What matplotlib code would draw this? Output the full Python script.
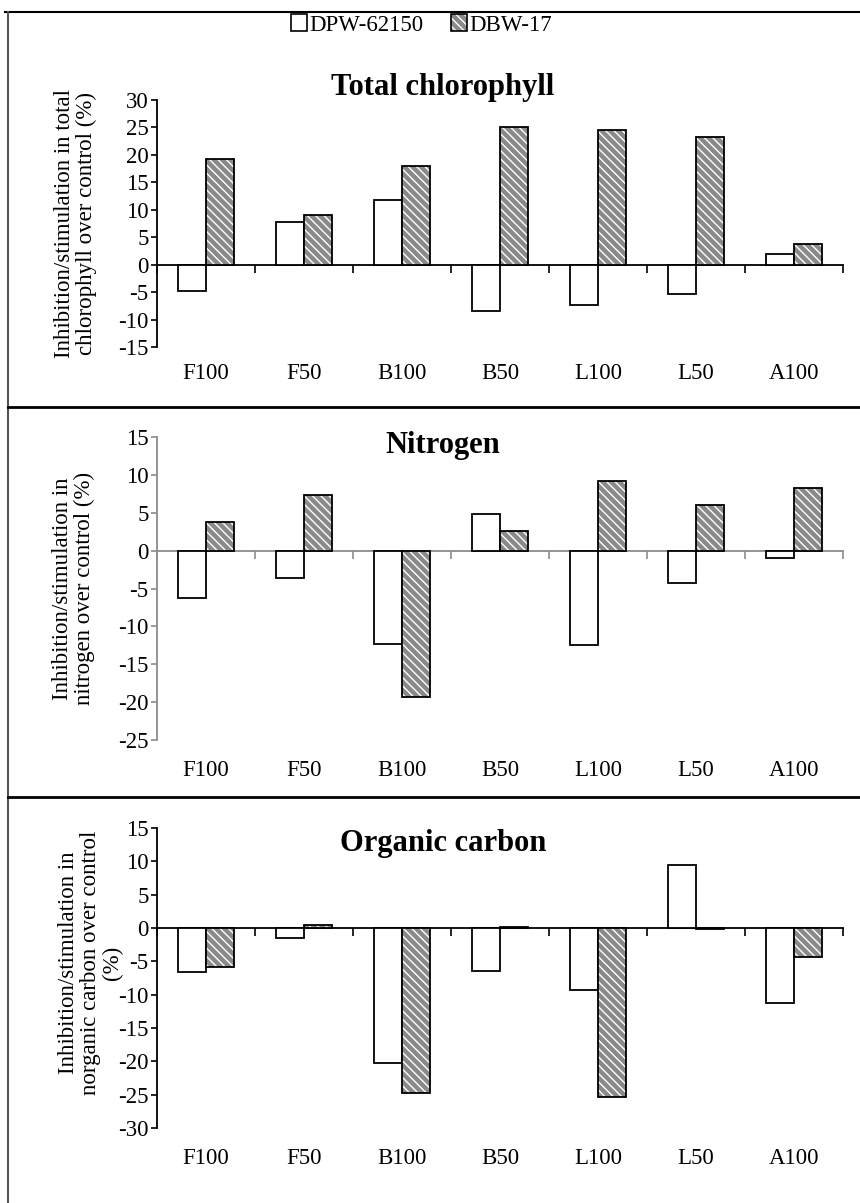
import numpy as np
import matplotlib
matplotlib.use("Agg")
import matplotlib.pyplot as plt
from matplotlib.patches import Patch
from matplotlib.lines import Line2D
from matplotlib.transforms import blended_transform_factory

plt.rcParams["font.family"] = ["Liberation Serif", "DejaVu Serif"]
plt.rcParams["hatch.linewidth"] = 1.0
plt.rcParams["axes.unicode_minus"] = False

categories = ["F100", "F50", "B100", "B50", "L100", "L50", "A100"]
series_names = ["DPW-62150", "DBW-17"]

chl_dpw = [-4.8, 7.7, 11.8, -8.5, -7.3, -5.3, 1.9]
chl_dbw = [19.3, 9.0, 17.9, 25.0, 24.5, 23.3, 3.8]

nit_dpw = [-6.3, -3.6, -12.3, 4.8, -12.4, -4.3, -1.0]
nit_dbw = [3.8, 7.4, -19.3, 2.6, 9.2, 6.0, 8.3]

oc_dpw = [-6.6, -1.5, -20.3, -6.5, -9.3, 9.4, -11.3]
oc_dbw = [-5.9, 0.4, -24.8, 0.2, -25.4, -0.2, -4.3]

panels = [
    ("Total chlorophyll", chl_dpw, chl_dbw, (-15, 30),
     "Inhibition/stimulation in total\nchlorophyll over control (%)"),
    ("Nitrogen", nit_dpw, nit_dbw, (-25, 15),
     "Inhibition/stimulation in\nnitrogen over control (%)"),
    ("Organic carbon", oc_dpw, oc_dbw, (-30, 15),
     "Inhibition/stimulation in\nnorganic carbon over control\n(%)"),
]

W, H = 860, 1203
fig = plt.figure(figsize=(W / 100, H / 100), dpi=100)

# axes boxes in pixels: (top, bottom)
boxes = [(100, 347), (437, 740), (828, 1128)]
ax_left, ax_right = 157, 843
label_x = [-0.087, -0.09, -0.05]
label_y = [0.5, 0.5, 0.55]
title_y = [88, 445, 843]
fs = 16.5

gray_fill = "#8a8a8a"
hatch = "\\\\\\\\"
bw = 0.286
x = np.arange(len(categories))

for i, (title, dpw, dbw, ylim, ylab) in enumerate(panels):
    top, bot = boxes[i]
    ax = fig.add_axes([ax_left / W, 1 - bot / H, (ax_right - ax_left) / W, (bot - top) / H])
    axis_col = "#8c8c8c" if i == 1 else "black"

    ax.bar(x - bw / 2, dpw, bw, color="white", edgecolor="black", linewidth=1.3, zorder=3)
    ax.bar(x + bw / 2, dbw, bw, color=gray_fill, edgecolor="white", linewidth=0,
           hatch=hatch, zorder=3)
    ax.bar(x + bw / 2, dbw, bw, fill=False, edgecolor="black", linewidth=1.3, zorder=4)

    ax.set_xlim(-0.5, len(categories) - 0.5)
    ax.set_ylim(*ylim)
    ax.set_yticks(np.arange(ylim[0], ylim[1] + 1, 5))
    ax.tick_params(axis="y", direction="out", length=4, width=1.2, labelcolor="black",
                   labelsize=fs, pad=2, color=axis_col)

    for s in ["top", "right"]:
        ax.spines[s].set_visible(False)
    ax.spines["left"].set_color(axis_col)
    ax.spines["left"].set_linewidth(1.3)
    ax.spines["bottom"].set_position(("data", 0))
    ax.spines["bottom"].set_color(axis_col)
    ax.spines["bottom"].set_linewidth(1.3)
    ax.set_xticks(np.arange(len(categories) + 1) - 0.5)
    ax.set_xticklabels([])
    ax.tick_params(axis="x", direction="out", length=5.5, width=1.2, color=axis_col)

    tr = blended_transform_factory(ax.transData, ax.transAxes)
    for xi, c in zip(x, categories):
        ax.text(xi, -0.065, c, transform=tr, ha="center", va="top", fontsize=fs)

    ax.set_ylabel(ylab, fontsize=fs, linespacing=1.05)
    ax.yaxis.set_label_coords(label_x[i], label_y[i])

    fig.text(0.515, 1 - title_y[i] / H, title, ha="center", va="center",
             fontsize=22, fontweight="bold")

# frame lines
fig.add_artist(Line2D([5 / W, 1], [1 - 12 / H] * 2, color="black", lw=1.5))
fig.add_artist(Line2D([8 / W] * 2, [0, 1 - 12 / H], color="#555555", lw=1.5))
for yy in [407, 797]:
    fig.add_artist(Line2D([8 / W, 1], [1 - yy / H] * 2, color="black", lw=2))

h1 = Patch(facecolor="white", edgecolor="black", linewidth=1.2)
h2a = Patch(facecolor=gray_fill, edgecolor="white", linewidth=0, hatch=hatch)
h2b = Patch(fill=False, edgecolor="black", linewidth=1.2)
fig.legend([h1, (h2a, h2b)], series_names, loc="center", bbox_to_anchor=(0.49, 1 - 25 / H),
           ncol=2, frameon=False, fontsize=fs, handlelength=0.7, handleheight=0.7,
           handletextpad=0.1, columnspacing=1.2)

fig.savefig("out.png", dpi=100)
